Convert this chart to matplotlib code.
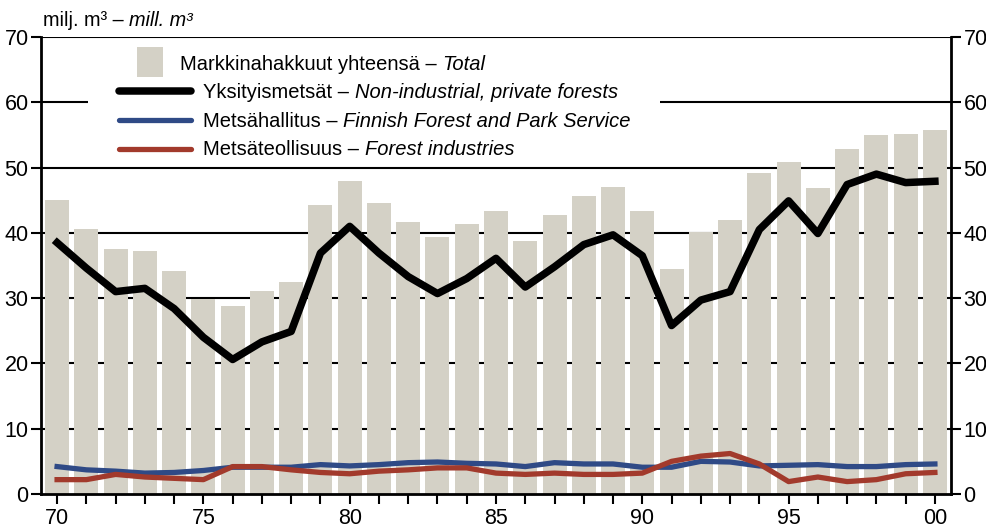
import matplotlib
matplotlib.use("Agg")
import matplotlib.pyplot as plt
from matplotlib.patches import Rectangle
from matplotlib.lines import Line2D
from matplotlib import font_manager

fam = 'Liberation Sans'
try:
    font_manager.findfont('Liberation Sans Narrow', fallback_to_default=False)
    fam = 'Liberation Sans Narrow'
except Exception:
    pass
plt.rcParams['font.family'] = [fam, 'DejaVu Sans']

years = list(range(1970, 2001))
total = [45.0, 40.6, 37.6, 37.2, 34.2, 29.9, 28.8, 31.1, 32.5, 44.3,
         48.0, 44.5, 41.6, 39.4, 41.3, 43.4, 38.8, 42.8, 45.6, 47.0,
         43.4, 34.4, 40.1, 42.0, 49.1, 50.9, 46.8, 52.9, 55.0, 55.2, 55.8]
private = [38.5, 34.6, 31.0, 31.5, 28.4, 24.0, 20.6, 23.3, 24.9, 36.9,
           41.0, 36.9, 33.3, 30.7, 33.0, 36.1, 31.7, 34.8, 38.2, 39.7,
           36.5, 25.8, 29.7, 31.0, 40.5, 44.9, 39.9, 47.4, 49.0, 47.7, 47.9]
state = [4.2, 3.7, 3.5, 3.2, 3.3, 3.6, 4.1, 4.1, 4.1, 4.5,
         4.3, 4.5, 4.8, 4.9, 4.7, 4.6, 4.2, 4.8, 4.6, 4.6,
         4.1, 4.1, 5.0, 4.9, 4.3, 4.4, 4.5, 4.2, 4.2, 4.5, 4.6]
industry = [2.2, 2.2, 3.0, 2.6, 2.4, 2.2, 4.2, 4.2, 3.7, 3.3,
            3.1, 3.5, 3.7, 4.0, 4.0, 3.2, 3.0, 3.2, 3.0, 3.0,
            3.2, 5.0, 5.8, 6.2, 4.6, 1.9, 2.6, 1.9, 2.2, 3.1, 3.3]
xtick_years = [1970, 1975, 1980, 1985, 1990, 1995, 2000]
xtick_labels = ['70', '75', '80', '85', '90', '95', '00']
yticks = [0, 10, 20, 30, 40, 50, 60, 70]

labels_fi = ['Markkinahakkuut yhteensä –', 'Yksityismetsät –', 'Metsähallitus –', 'Metsäteollisuus –']
labels_en = ['Total', 'Non-industrial, private forests', 'Finnish Forest and Park Service', 'Forest industries']
unit_fi = 'milj. m³ –'
unit_en = 'mill. m³'

BAR = '#d4d1c6'
BLACK = '#000000'
BLUE = '#2f4a86'
RED = '#a23a2c'

W, H = 986, 530
fig = plt.figure(figsize=(W/100, H/100), dpi=100)
ax = fig.add_axes([41/W, 1-494/H, (951-41)/W, (494-37)/H])

ax.bar(years, total, width=0.82, color=BAR, zorder=2)
ax.plot(years, state, color=BLUE, lw=3.8, zorder=3)
ax.plot(years, industry, color=RED, lw=3.8, zorder=3)
ax.plot(years, private, color=BLACK, lw=5.4, zorder=4)

ax.set_xlim(1969.45, 2000.55)
ax.set_ylim(0, 70)
ax.set_yticks(yticks)
ax.set_xticks(years, minor=True)
ax.set_xticks(xtick_years)
ax.set_xticklabels(xtick_labels)
for y in yticks[1:]:
    ax.axhline(y, color='black', lw=1.5, zorder=1)

ax.spines['top'].set_visible(False)
for s in ['left', 'right', 'bottom']:
    ax.spines[s].set_linewidth(2)
    ax.spines[s].set_zorder(5)

FS = 15.5
ax.tick_params(axis='y', which='both', direction='out', length=7, width=1.5,
               labelsize=FS, left=True, right=True, labelleft=True, labelright=True, pad=2)
ax.tick_params(axis='x', which='both', direction='out', length=7, width=1.5,
               labelsize=FS, pad=3)

def ax_x(px):
    return (px - 41) / 910
def ax_y(py):
    return (494 - py) / 457

ax.add_patch(Rectangle((ax_x(88), ax_y(160)), ax_x(660) - ax_x(88), ax_y(44) - ax_y(160),
                       transform=ax.transAxes, facecolor='white', edgecolor='none', zorder=1.5))
ax.add_patch(Rectangle((ax_x(137), ax_y(77)), ax_x(163) - ax_x(137), ax_y(47) - ax_y(77),
                       transform=ax.transAxes, facecolor=BAR, edgecolor='none', zorder=6))

renderer = fig.canvas.get_renderer()

def rich(px, py, normal, italic, fs):
    t1 = fig.text(px / W, 1 - py / H, normal, fontsize=fs, va='center', ha='left', zorder=7)
    ext = t1.get_window_extent(renderer)
    gap = fs * 100 / 72 * 0.28
    x2 = ext.x1 + gap
    fig.text(x2 / W, 1 - py / H, italic, fontsize=fs, style='italic', va='center', ha='left', zorder=7)

LFS = 14.5
rich(180, 65, labels_fi[0], labels_en[0], LFS)
for py, col, lw, fi, en in [(91, BLACK, 5.4, labels_fi[1], labels_en[1]),
                            (120, BLUE, 3.8, labels_fi[2], labels_en[2]),
                            (149, RED, 3.8, labels_fi[3], labels_en[3])]:
    ax.add_line(Line2D([ax_x(119), ax_x(191)], [ax_y(py), ax_y(py)], transform=ax.transAxes,
                       color=col, lw=lw, solid_capstyle='round', zorder=6))
    rich(203, py + 1, fi, en, LFS)

rich(43, 20, unit_fi, unit_en, 14.3)

fig.savefig('out.png', dpi=100)
